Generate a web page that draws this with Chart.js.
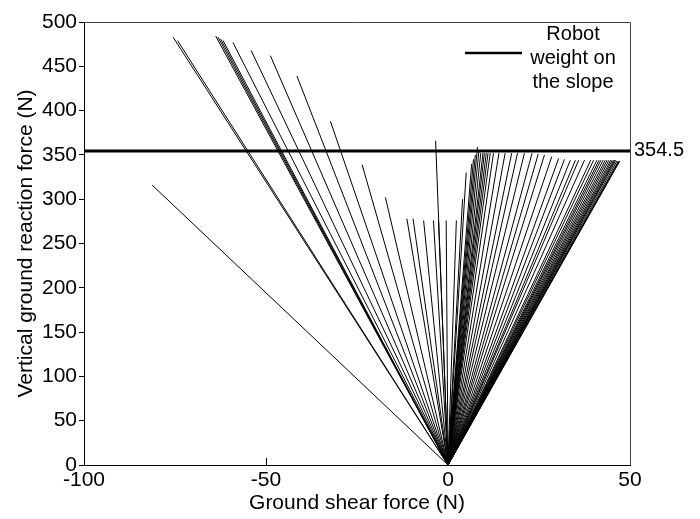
<!DOCTYPE html>
<html>
<head>
<meta charset="utf-8">
<style>
  html, body { margin: 0; padding: 0; background: #fff; }
  canvas { display: block; }
</style>
<script src="https://cdn.jsdelivr.net/npm/chart.js@4/dist/chart.umd.min.js"></script>
</head>
<body>
<canvas id="chart" width="700" height="519" style="width:700px;height:519px"></canvas>
<script>
// Ground reaction force vectors: each one runs from the origin to (shear, vertical).
const shearEnd = [
  -81.3, -75.5, -74.3,
  -63.8, -63.2, -62.5, -61.8, -59.1, -54.1, -48.8, -41.5, -32.3, -23.6, -17.2,
  -11.3, -9.6, -6.7, -4.0, -3.4, -2.6, -0.5, 2.3,
  4.0, 5.0, 6.5, 7.0, 7.5, 8.1, 8.5, 9.0, 9.6, 10.0, 10.5, 11.0, 11.6, 12.5,
  14.0, 15.7, 17.5, 19.1, 21.0, 23.1, 24.8, 26.5, 28.5, 30.4, 32.0, 33.6,
  35.0, 35.9, 37.5, 39.2, 40.0, 40.9, 41.5, 42.0, 42.6, 43.2, 43.7, 44.2,
  44.7, 45.1, 45.5, 45.8, 46.1, 46.4, 46.8, 47.0, 47.2
];
const verticalEnd = [
  316, 482.7, 479,
  484, 483, 481, 479, 477, 468, 462, 439, 388, 339, 302,
  278, 278, 276, 276, 366, 276, 276, 276,
  300, 330, 340, 345, 350, 359, 355, 352, 352, 352, 352, 352, 352, 352,
  352, 352, 352, 352, 352, 352, 351, 350, 348, 346, 345, 344,
  344, 344, 344, 344, 344, 344, 344, 344, 344, 344, 344, 344,
  344, 344, 344, 344, 344, 343, 343, 343, 343
];

// Robot weight on the slope (N)
const robotWeight = 354.5;
const legendLines = ['Robot', 'weight on', 'the slope'];

const xTicks = [-100, -50, 0, 50];
const yTicks = [0, 50, 100, 150, 200, 250, 300, 350, 400, 450, 500];

const FONT = '"Liberation Sans", Arial, sans-serif';

const datasets = shearEnd.map((sx, i) => ({
  data: [{ x: 0, y: 0 }, { x: sx, y: verticalEnd[i] }],
  showLine: true,
  borderColor: '#000',
  borderWidth: 1,
  pointRadius: 0,
  fill: false
}));

datasets.push({
  label: 'Robot weight on the slope',
  data: [{ x: xTicks[0], y: robotWeight }, { x: xTicks[xTicks.length - 1], y: robotWeight }],
  showLine: true,
  borderColor: '#000',
  borderWidth: 3,
  pointRadius: 0,
  fill: false
});

// Frame around the plot, the weight value label and the legend
const decorations = {
  id: 'decorations',
  afterDraw(chart) {
    const { ctx, chartArea: a, scales } = chart;
    ctx.save();
    ctx.strokeStyle = '#404040';
    ctx.lineWidth = 1;
    ctx.beginPath();
    ctx.moveTo(a.left, a.top + 0.5);
    ctx.lineTo(a.right + 0.5, a.top + 0.5);
    ctx.lineTo(a.right + 0.5, a.bottom);
    ctx.stroke();

    ctx.fillStyle = '#000';
    ctx.font = '20px ' + FONT;
    ctx.textAlign = 'left';
    ctx.textBaseline = 'middle';
    ctx.fillText(String(robotWeight), a.right + 4, scales.y.getPixelForValue(robotWeight));

    // legend
    ctx.strokeStyle = '#000';
    ctx.lineWidth = 2.5;
    ctx.beginPath();
    ctx.moveTo(465, 53);
    ctx.lineTo(522, 53);
    ctx.stroke();
    ctx.font = '20px ' + FONT;
    ctx.textAlign = 'center';
    legendLines.forEach((t, i) => ctx.fillText(t, 573, 34 + i * 24));
    ctx.restore();
  }
};

new Chart(document.getElementById('chart'), {
  type: 'scatter',
  data: { datasets },
  options: {
    responsive: false,
    animation: false,
    layout: { padding: { top: 22, right: 70, bottom: 0, left: 0 } },
    plugins: { legend: { display: false }, tooltip: { enabled: false } },
    scales: {
      x: {
        type: 'linear',
        min: -100,
        max: 50,
        afterBuildTicks(s) { s.ticks = xTicks.map(v => ({ value: v })); },
        afterFit(s) { s.height = 54; },
        ticks: { color: '#000', font: { family: FONT, size: 21 }, padding: 10, maxRotation: 0, autoSkip: false },
        grid: { drawOnChartArea: false, tickLength: -7, color: '#000' },
        border: { color: '#000', width: 1 },
        title: { display: true, text: 'Ground shear force (N)', color: '#000', font: { family: FONT, size: 21 }, padding: { top: 0, bottom: 3 } }
      },
      y: {
        type: 'linear',
        min: 0,
        max: 500,
        afterBuildTicks(s) { s.ticks = yTicks.map(v => ({ value: v })); },
        afterFit(s) { s.width = 84; },
        ticks: { color: '#000', font: { family: FONT, size: 21 }, padding: 2, autoSkip: false },
        grid: { drawOnChartArea: false, tickLength: 5, color: '#000' },
        border: { color: '#000', width: 1 },
        title: { display: true, text: 'Vertical ground reaction force (N)', color: '#000', font: { family: FONT, size: 21 }, padding: { top: 14, bottom: 0 } }
      }
    }
  },
  plugins: [decorations]
});
</script>
</body>
</html>
